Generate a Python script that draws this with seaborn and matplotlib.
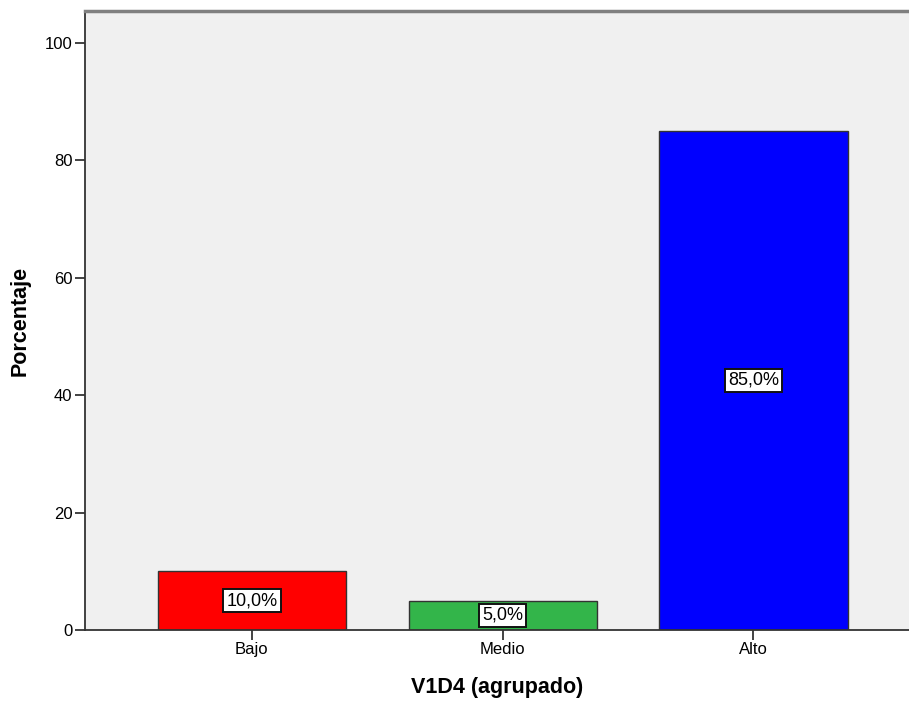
import matplotlib
matplotlib.use("Agg")
import matplotlib.pyplot as plt
import seaborn as sns
import pandas as pd

# data
categorias = ["Bajo", "Medio", "Alto"]
porcentajes = [10.0, 5.0, 85.0]
colores = ["#FF0000", "#33B54A", "#0000FF"]

df = pd.DataFrame({"V1D4 (agrupado)": categorias, "Porcentaje": porcentajes})

sns.set_style("white")
plt.rcParams["font.family"] = ["Liberation Sans", "DejaVu Sans"]
plt.rcParams["text.color"] = "black"
plt.rcParams["axes.labelcolor"] = "black"
plt.rcParams["xtick.color"] = "black"
plt.rcParams["ytick.color"] = "black"

fig = plt.figure(figsize=(9.09, 7.02), dpi=100)
ax = fig.add_axes([0.0935, 0.1026, 0.9065, 0.8817])
ax.set_facecolor("#F0F0F0")

sns.barplot(data=df, x="V1D4 (agrupado)", y="Porcentaje", hue="V1D4 (agrupado)",
            palette=colores, saturation=1, width=0.75, edgecolor="#333333",
            linewidth=1, legend=False, ax=ax)

# labels in white boxes at bar centres
for cont in ax.containers:
    ax.bar_label(cont, labels=[f"{v:.1f}".replace(".", ",") + "%" for v in cont.datavalues],
                 label_type="center", fontsize=13, color="black",
                 bbox=dict(boxstyle="square,pad=0.18", facecolor="white",
                           edgecolor="#111111", linewidth=1.4))

ax.set_xlim(-0.665, 2.62)
ax.set_ylim(0, 105.4)
ax.set_yticks([0, 20, 40, 60, 80, 100])

ax.tick_params(axis="both", direction="out", length=7, width=1.2, color="#222222",
               labelsize=12, pad=2, left=True, bottom=True)

ax.set_xlabel("V1D4 (agrupado)", fontsize=15.5, fontweight="bold", labelpad=14)
ax.set_ylabel("Porcentaje", fontsize=15.5, fontweight="bold", labelpad=10)

for side in ["left", "bottom"]:
    ax.spines[side].set_color("#333333")
    ax.spines[side].set_linewidth(1.3)
ax.spines["top"].set_color("#808080")
ax.spines["top"].set_linewidth(2.5)
ax.spines["right"].set_visible(False)

fig.savefig("out.png", dpi=100)
